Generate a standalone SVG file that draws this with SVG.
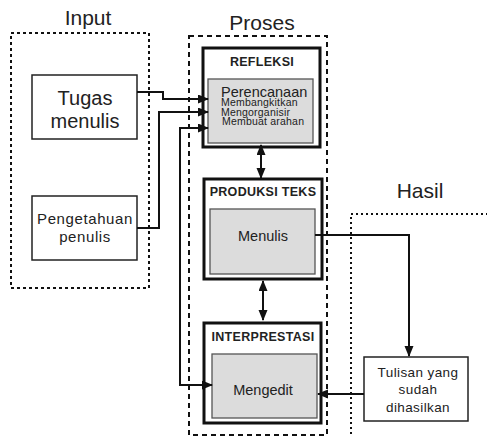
<svg xmlns="http://www.w3.org/2000/svg" width="487" height="437" viewBox="0 0 487 437">
<defs>
<marker id="ah" markerUnits="userSpaceOnUse" markerWidth="11" markerHeight="10" refX="10" refY="4.5" orient="auto-start-reverse" viewBox="0 0 11 10">
<path d="M0,0 L11,4.5 L0,9 z" fill="#111"/>
</marker>
<style>
text{font-family:"Liberation Sans",Arial,sans-serif;fill:#222}
.title{font-size:21px;text-anchor:middle}
.big{font-size:20px;text-anchor:middle}
.lbl{font-size:15px;text-anchor:middle;letter-spacing:0.6px}
.head{font-size:12.5px;font-weight:bold;text-anchor:middle;letter-spacing:0.3px}
.inner{font-size:14.5px;text-anchor:middle}
.small{font-size:10.5px;letter-spacing:0.2px}
.out{font-size:13.5px;text-anchor:middle;letter-spacing:0.4px}
.grp{fill:none;stroke:#111;stroke-width:2}
.box{fill:#fff;stroke:#222;stroke-width:1.5}
.outer{fill:#fff;stroke:#111;stroke-width:3}
.in{fill:#dcdcdc;stroke:#555;stroke-width:1.3}
.con{fill:none;stroke:#111;stroke-width:2}
</style>
</defs>
<g id="input-group">
<rect class="grp" x="11" y="33" width="138" height="255" stroke-dasharray="3 3"/>
<text class="title" x="88" y="25">Input</text>
</g>
<g id="proses-group">
<rect class="grp" x="189" y="36" width="138" height="399" stroke-dasharray="5 4"/>
<text class="title" x="262" y="30">Proses</text>
</g>
<g id="hasil-group">
<rect class="grp" x="351" y="214" width="145" height="230" stroke-dasharray="2 3"/>
<text class="title" x="420" y="198">Hasil</text>
</g>
<g id="tugas">
<rect class="box" x="32" y="75" width="105" height="64"/>
<text class="big" x="85" y="105">Tugas</text>
<text class="big" x="85" y="128">menulis</text>
</g>
<g id="pengetahuan">
<rect class="box" x="32" y="196" width="105" height="64"/>
<text class="lbl" x="85" y="224">Pengetahuan</text>
<text class="lbl" x="85" y="242">penulis</text>
</g>
<g id="refleksi">
<rect class="outer" x="203" y="48" width="117" height="99"/>
<text class="head" x="262" y="66">REFLEKSI</text>
<rect class="in" x="208" y="79" width="105" height="64"/>
<text x="221" y="97" style="font-size:14.5px">Perencanaan</text>
<text class="small" x="221" y="106">Membangkitkan</text>
<text class="small" x="221" y="115.5">Mengorganisir</text>
<text class="small" x="222" y="125">Membuat arahan</text>
</g>
<g id="produksi">
<rect class="outer" x="204" y="179" width="118" height="100"/>
<text class="head" x="263" y="196">PRODUKSI TEKS</text>
<rect class="in" x="210" y="209" width="105" height="65"/>
<text class="inner" x="263" y="241">Menulis</text>
</g>
<g id="interprestasi">
<rect class="outer" x="204" y="323" width="117" height="100"/>
<text class="head" x="263" y="341">INTERPRESTASI</text>
<rect class="in" x="212" y="354" width="105" height="64"/>
<text class="inner" x="263" y="395">Mengedit</text>
</g>
<g id="tulisan">
<rect class="box" x="364" y="357" width="104" height="64"/>
<text class="out" x="418" y="377">Tulisan yang</text>
<text class="out" x="418" y="394">sudah</text>
<text class="out" x="418" y="412">dihasilkan</text>
</g>
<g id="connectors">
<path class="con" d="M137,92 H163 V99 H208" marker-end="url(#ah)"/>
<path class="con" d="M137,228 H159 V112 H208" marker-end="url(#ah)"/>
<path class="con" d="M212,385 H180 V128 H208" marker-start="url(#ah)" marker-end="url(#ah)"/>
<path class="con" d="M261,145 V178" marker-start="url(#ah)" marker-end="url(#ah)"/>
<path class="con" d="M263,281 V320" marker-start="url(#ah)" marker-end="url(#ah)"/>
<path class="con" d="M315,235 H409 V356" marker-end="url(#ah)"/>
<path class="con" d="M364,394 H318" marker-end="url(#ah)"/>
</g>
</svg>
